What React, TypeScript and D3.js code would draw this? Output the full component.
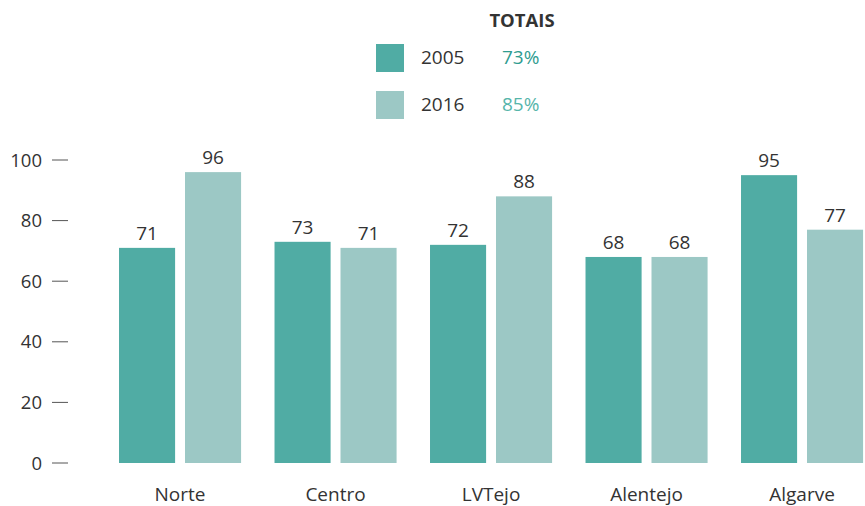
import * as d3 from 'd3';

const regions = ['Norte', 'Centro', 'LVTejo', 'Alentejo', 'Algarve'];
const years = ['2005', '2016'];
const values2005 = [71, 73, 72, 68, 95];
const values2016 = [96, 71, 88, 68, 77];
const totals = ['73%', '85%'];
const yTicks = [0, 20, 40, 60, 80, 100];

const width = 865;
const height = 506;
const barColors = ['#50aca4', '#9cc8c5'];
const totalColors = ['#2f9c90', '#56b5aa'];
const font = "'Open Sans', sans-serif";

export default function App(): JSX.Element {
  const x0 = d3
    .scaleBand<string>()
    .domain(regions)
    .range([102.3, 879.8])
    .paddingInner(0.215)
    .paddingOuter(0.1075);
  const x1 = d3
    .scaleBand<string>()
    .domain(years)
    .range([0, x0.bandwidth()])
    .paddingInner(0.15);
  const y = d3.scaleLinear().domain([0, 100]).range([463, 160]);

  const series = [values2005, values2016];

  return (
    <svg
      width={width}
      height={height}
      style={{ position: 'absolute', left: 0, top: 0 }}
      fontFamily={font}
    >
      {/* legend */}
      <text x={522} y={27} textAnchor="middle" fontSize={18.5} fontWeight="bold" fill="#333">
        TOTAIS
      </text>
      {years.map((yr, i) => (
        <g key={yr} transform={`translate(376,${44 + i * 47})`}>
          <rect width={28} height={28} fill={barColors[i]} />
          <text x={45} y={20} fontSize={19} fill="#333">
            {yr}
          </text>
          <text x={126} y={20} fontSize={19} fill={totalColors[i]}>
            {totals[i]}
          </text>
        </g>
      ))}

      {/* y axis */}
      {yTicks.map(t => (
        <g key={t} transform={`translate(0,${y(t)})`}>
          <text x={42} y={6.5} textAnchor="end" fontSize={18.5} fill="#333">
            {t}
          </text>
          <line x1={52} x2={68} stroke="#555" strokeWidth={1} />
        </g>
      ))}

      {/* bars */}
      {regions.map((r, ri) => (
        <g key={r} transform={`translate(${x0(r)},0)`}>
          {years.map((yr, si) => {
            const v = series[si][ri];
            const bx = x1(yr) as number;
            return (
              <g key={yr}>
                <rect
                  x={bx}
                  y={y(v)}
                  width={x1.bandwidth()}
                  height={y(0) - y(v)}
                  fill={barColors[si]}
                />
                <text
                  x={bx + x1.bandwidth() / 2}
                  y={y(v) - 8}
                  textAnchor="middle"
                  fontSize={19}
                  fill="#333"
                >
                  {v}
                </text>
              </g>
            );
          })}
          <text
            x={x0.bandwidth() / 2}
            y={501}
            textAnchor="middle"
            fontSize={19}
            fill="#333"
          >
            {r}
          </text>
        </g>
      ))}
    </svg>
  );
}
